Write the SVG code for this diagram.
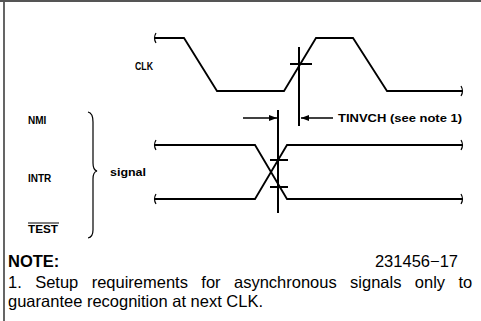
<svg xmlns="http://www.w3.org/2000/svg" width="481" height="321" viewBox="0 0 481 321">
<defs>
<style>
.w{fill:none;stroke:#000;stroke-width:1.8;stroke-linejoin:miter}
.t{fill:none;stroke:#000;stroke-width:2}
.b{fill:none;stroke:#000;stroke-width:1.2}
.lbl{font-family:"Liberation Sans",Arial,sans-serif;font-size:10px;font-weight:bold;fill:#000}
.note{font-family:"Liberation Sans",Arial,sans-serif;font-size:16.5px;fill:#000}
</style>
<marker id="ah" markerWidth="8" markerHeight="6" refX="8" refY="3" orient="auto" markerUnits="userSpaceOnUse">
<path d="M0,0 L8,3 L0,6 Z" fill="#000"/>
</marker>
</defs>
<rect width="481" height="321" fill="#fff"/>
<g id="frame">
<line x1="0" y1="1" x2="481" y2="1" stroke="#555" stroke-width="2"/>
<line x1="4" y1="1" x2="4" y2="321" stroke="#555" stroke-width="1.8"/>
</g>
<g id="clk">
<path class="w" d="M155,38 H184 L217,91 H284 L316,38 H353 L387,91 H462"/>
<path class="b" d="M156,33 q-3,5 0,10"/>
<path class="b" d="M461,86 q3,5 0,10"/>
<text class="lbl" x="135" y="70" textLength="18" lengthAdjust="spacingAndGlyphs">CLK</text>
</g>
<g id="signal">
<path class="w" d="M155,145 H255 L287,199 H462"/>
<path class="w" d="M155,199 H255 L287,145 H462"/>
<path class="b" d="M156,140 q-3,5 0,10"/>
<path class="b" d="M156,194 q-3,5 0,10"/>
<path class="b" d="M461,140 q3,5 0,10"/>
<path class="b" d="M461,194 q3,5 0,10"/>
<text class="lbl" x="28" y="124">NMI</text>
<text class="lbl" x="28" y="182">INTR</text>
<text class="lbl" x="28" y="233" textLength="30" lengthAdjust="spacingAndGlyphs">TEST</text>
<line x1="28" y1="223" x2="59" y2="223" stroke="#000" stroke-width="1"/>
<path class="b" d="M88,112 Q93,113 93,122 V163 Q93,170 97,171 Q93,172 93,179 V230 Q93,237 88,238"/>
<text class="lbl" x="110" y="176" textLength="36" lengthAdjust="spacingAndGlyphs">signal</text>
</g>
<g id="timing">
<line class="t" x1="299" y1="47" x2="299" y2="126"/>
<line class="t" x1="290" y1="64" x2="312" y2="64"/>
<line class="t" x1="278" y1="110" x2="278" y2="213"/>
<line class="t" x1="270" y1="160" x2="288" y2="160"/>
<line class="t" x1="270" y1="187" x2="288" y2="187"/>
</g>
<g id="connectors">
<line x1="243" y1="118" x2="277" y2="118" stroke="#000" stroke-width="1.5" marker-end="url(#ah)"/>
<line x1="333" y1="118" x2="301" y2="118" stroke="#000" stroke-width="1.5" marker-end="url(#ah)"/>
</g>
<text class="lbl" x="338" y="122" font-size="11" textLength="124" lengthAdjust="spacingAndGlyphs">TINVCH (see note 1)</text>
<g id="notes">
<text class="note" x="8" y="267" font-weight="bold">NOTE:</text>
<text class="note" x="458" y="267" font-size="11" text-anchor="end">231456−17</text>
<text class="note" x="8" y="288" word-spacing="8.8">1. Setup requirements for asynchronous signals only to</text>
<text class="note" x="8" y="307">guarantee recognition at next CLK.</text>
</g>
</svg>
